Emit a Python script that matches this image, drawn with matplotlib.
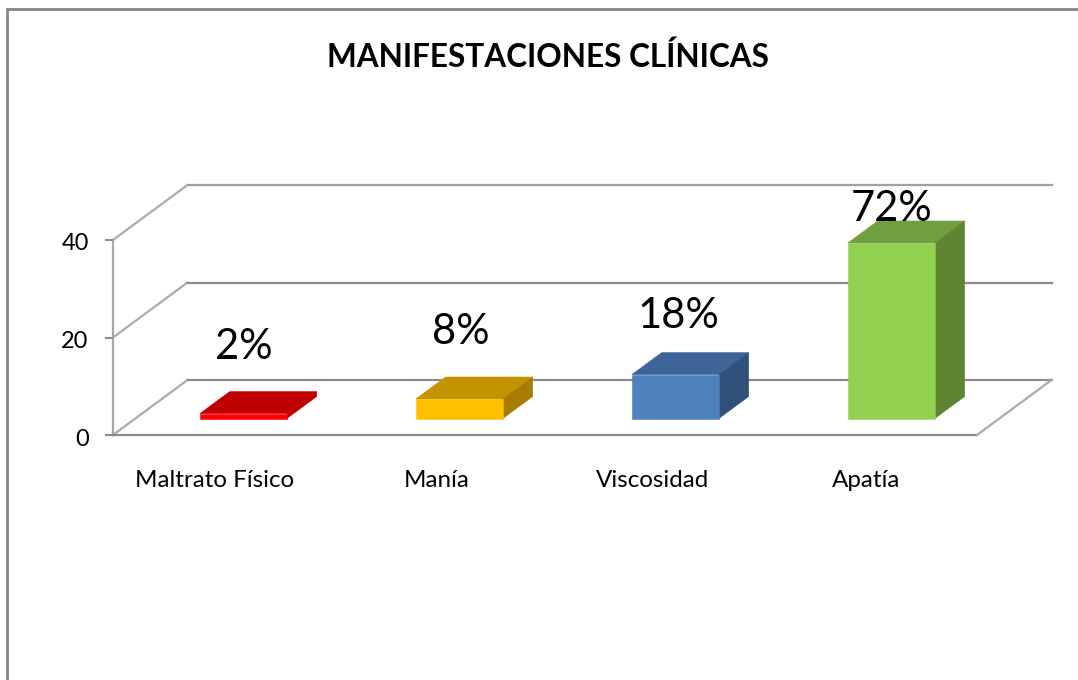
import matplotlib
matplotlib.use("Agg")
import matplotlib.pyplot as plt
from matplotlib.patches import Polygon, Rectangle
from matplotlib.transforms import ScaledTranslation

categories = ["Maltrato Físico", "Manía", "Viscosidad", "Apatía"]
values = [1, 4, 9, 36]
pct_labels = ["2%", "8%", "18%", "72%"]
yticks = [0, 20, 40]
title = "MANIFESTACIONES CLÍNICAS"
front_cols = ["#FF0000", "#FFC000", "#4F81BD", "#92D050"]
top_cols = ["#C00000", "#C49400", "#3D6597", "#6FA03D"]
side_cols = ["#C00000", "#A67D00", "#2F5078", "#5F8533"]

W, H = 1078, 680
plt.rcParams["font.family"] = ["Lato", "DejaVu Sans"]
fig = plt.figure(figsize=(W / 100, H / 100), dpi=100, facecolor="white")

# plot rectangle in pixels
L, R, T, B = 113, 977, 240, 435
ax = fig.add_axes([L / W, 1 - B / H, (R - L) / W, (B - T) / H])
ax.set_xlim(0, 4)
ax.set_ylim(0, 40)
ax.patch.set_visible(False)
for s in ax.spines.values():
    s.set_visible(False)

px_x = (R - L) / 4
px_y = (B - T) / 40
DX = 74.5 / px_x
DY = 55 / px_y
GRID = "#8C8C8C"
DIAG = "#ABABAB"


def pr(c, v, d):
    return c + d * DX, v + d * DY


# walls
for t in yticks:
    x0, y0 = pr(0, t, 0)
    x1, y1 = pr(0, t, 1)
    x2, y2 = pr(4, t, 1)
    ax.plot([x0, x1], [y0, y1], color=DIAG, lw=1.6, clip_on=False, zorder=1)
    ax.plot([x1, x2], [y1, y2], color=GRID if t < 40 else "#A0A0A0", lw=1.6,
            clip_on=False, zorder=1)
ax.plot([0, 0], [0, 40], color="#A8A8A8", lw=1.6, clip_on=False, zorder=1)
ax.plot([0, 4], [0, 0], color=GRID, lw=1.6, clip_on=False, zorder=1)
xr, yr = pr(4, 0, 1)
ax.plot([4, xr], [0, yr], color=DIAG, lw=1.6, clip_on=False, zorder=1)

# bars
width = 87 / px_x
d0, d1 = 0.30, 0.70
for i, v in enumerate(values):
    a = i + 0.5 - width / 2
    b = a + width
    ax.add_patch(Polygon([pr(a, v, d0), pr(b, v, d0), pr(b, v, d1), pr(a, v, d1)],
                         closed=True, fc=top_cols[i], ec=top_cols[i], lw=0.4, zorder=3, clip_on=False))
    ax.add_patch(Polygon([pr(b, 0, d0), pr(b, v, d0), pr(b, v, d1), pr(b, 0, d1)],
                         closed=True, fc=side_cols[i], ec=side_cols[i], lw=0.4, zorder=3, clip_on=False))
    ax.add_patch(Polygon([pr(a, 0, d0), pr(b, 0, d0), pr(b, v, d0), pr(a, v, d0)],
                         closed=True, fc=front_cols[i], ec=front_cols[i], lw=0.4, zorder=4, clip_on=False))

# y axis
ax.set_yticks(yticks)
ax.set_yticklabels([str(t) for t in yticks], fontsize=17, color="black")
ax.tick_params(axis="y", length=6, width=1.5, color=GRID, pad=11.5)
for lab in ax.get_yticklabels():
    lab.set_transform(lab.get_transform() + ScaledTranslation(0, -2 / 100, fig.dpi_scale_trans))
ax.set_xticks([])

# data and category labels (pixel placed)
label_xy = [(244, 347), (461, 332), (678, 316), (892, 209)]
for s, (x, y) in zip(pct_labels, label_xy):
    fig.text(x / W, 1 - y / H, s, fontsize=30, ha="center", va="center", color="black", zorder=6)
cat_x = [215, 437, 653, 866]
for s, x in zip(categories, cat_x):
    fig.text(x / W, 1 - 480.5 / H, s, fontsize=17.4, ha="center", va="center", color="black")
fig.text(547.5 / W, 1 - 56.5 / H, title, fontsize=22.7, fontweight="bold", ha="center",
         va="center", color="black")

# chart frame
fig.add_artist(Rectangle((6.5 / W, -0.05), 1.0, 1.05 - 9 / H, transform=fig.transFigure,
                         fc="none", ec="#868686", lw=2))
fig.savefig("out.png", dpi=100, facecolor="white")
